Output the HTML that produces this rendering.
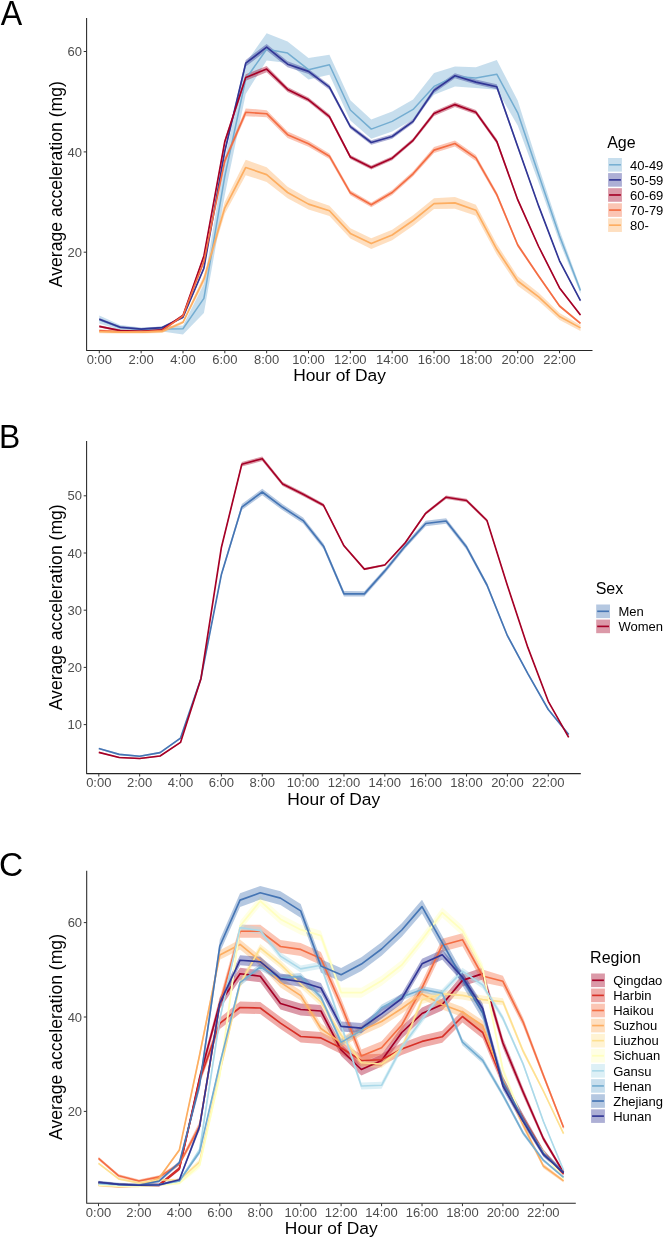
<!DOCTYPE html><html><head><meta charset="utf-8"><style>html,body{margin:0;padding:0;background:#fff;}svg{display:block;will-change:transform;}text{font-family:"Liberation Sans", sans-serif;}</style></head><body>
<svg width="664" height="1240" viewBox="0 0 664 1240">
<rect width="664" height="1240" fill="#fff"/>
<path d="M99.3,315.5 L120.22,325 L141.14,327.5 L162.06,326.5 L182.98,325.5 L203.9,284 L224.82,158 L245.74,63 L266.66,33.3 L287.58,41.5 L308.5,58.1 L329.42,54.8 L350.34,100.2 L371.26,119.4 L392.18,111.5 L413.1,99.6 L434.02,73.1 L454.94,66.5 L475.86,67.2 L496.78,60 L517.7,100.5 L538.62,166.5 L559.54,230 L580.46,287.6 L580.46,293.6 L559.54,242 L538.62,182.5 L517.7,125.5 L496.78,89.7 L475.86,88 L454.94,86.4 L434.02,94.7 L413.1,119.5 L392.18,131.5 L371.26,138.8 L350.34,120.5 L329.42,74.7 L308.5,79.6 L287.58,63.1 L266.66,60.5 L245.74,94 L224.82,195 L203.9,313 L182.98,334.4 L162.06,331.5 L141.14,331 L120.22,330 L99.3,323.5 Z" fill="#74add1" fill-opacity="0.4" stroke="none"/>
<path d="M99.3,318.1 L120.22,326.1 L141.14,327.9 L162.06,326.4 L182.98,316.1 L203.9,266.4 L224.82,148.4 L245.74,59.9 L266.66,43.9 L287.58,61.2 L308.5,68.9 L329.42,84.7 L350.34,124.4 L371.26,140.3 L392.18,134.3 L413.1,119.1 L434.02,87.9 L454.94,73.3 L475.86,79.6 L496.78,84.3 L517.7,144.8 L538.62,204.6 L559.54,259.7 L580.46,299.7 L580.46,301.7 L559.54,261.9 L538.62,207.2 L517.7,148.4 L496.78,89.3 L475.86,84.6 L454.94,78.3 L434.02,92.9 L413.1,123.5 L392.18,138.7 L371.26,144.7 L350.34,128.8 L329.42,89.7 L308.5,73.9 L287.58,67.2 L266.66,50.5 L245.74,66.5 L224.82,153.6 L203.9,270 L182.98,318.5 L162.06,328.8 L141.14,330.3 L120.22,328.5 L99.3,320.5 Z" fill="#313695" fill-opacity="0.4" stroke="none"/>
<path d="M99.3,325.2 L120.22,329.4 L141.14,330.2 L162.06,328.6 L182.98,314.3 L203.9,254.1 L224.82,139 L245.74,74.3 L266.66,65.9 L287.58,86.9 L308.5,97.5 L329.42,114.3 L350.34,155 L371.26,165.6 L392.18,156.2 L413.1,138.3 L434.02,111.3 L454.94,102.3 L475.86,109.9 L496.78,139.1 L517.7,197.9 L538.62,245.2 L559.54,286.8 L580.46,314 L580.46,316 L559.54,289 L538.62,247.8 L517.7,201.5 L496.78,143.7 L475.86,114.5 L454.94,106.9 L434.02,115.9 L413.1,142.3 L392.18,160.2 L371.26,169.6 L350.34,159 L329.42,118.9 L308.5,102.1 L287.58,91.9 L266.66,72.3 L245.74,80.7 L224.82,144 L203.9,257.7 L182.98,316.7 L162.06,331 L141.14,332.6 L120.22,331.8 L99.3,327.6 Z" fill="#a50026" fill-opacity="0.4" stroke="none"/>
<path d="M99.3,329.4 L120.22,330.6 L141.14,330.6 L162.06,329.4 L182.98,314.6 L203.9,259.4 L224.82,157.7 L245.74,108.4 L266.66,110.2 L287.58,131.5 L308.5,140.7 L329.42,153.4 L350.34,190.3 L371.26,202.4 L392.18,190.1 L413.1,171.3 L434.02,147.1 L454.94,140.5 L475.86,154.9 L496.78,192.1 L517.7,243 L538.62,274.4 L559.54,304.7 L580.46,322.2 L580.46,324.4 L559.54,307.3 L538.62,277.6 L517.7,247 L496.78,197.1 L475.86,160.9 L454.94,146.5 L434.02,153.1 L413.1,176.3 L392.18,194.9 L371.26,207.2 L350.34,195.3 L329.42,159 L308.5,146.7 L287.58,137.9 L266.66,117.2 L245.74,116.2 L224.82,163.7 L203.9,263.4 L182.98,317 L162.06,331.8 L141.14,333 L120.22,333 L99.3,331.8 Z" fill="#f46d43" fill-opacity="0.4" stroke="none"/>
<path d="M99.3,330.3 L120.22,330.6 L141.14,330.6 L162.06,329.9 L182.98,320.8 L203.9,275.2 L224.82,201.8 L245.74,159.8 L266.66,167.3 L287.58,186.7 L308.5,198.6 L329.42,205.7 L350.34,228.2 L371.26,238.3 L392.18,229.7 L413.1,215.2 L434.02,198.2 L454.94,197.1 L475.86,204.7 L496.78,244.1 L517.7,276.2 L538.62,292.7 L559.54,312.9 L580.46,324.9 L580.46,330.9 L559.54,320.1 L538.62,301.1 L517.7,285.8 L496.78,254.5 L475.86,215.7 L454.94,208.7 L434.02,209 L413.1,225.8 L392.18,240.3 L371.26,248.9 L350.34,238.6 L329.42,215.9 L308.5,209.6 L287.58,198.3 L266.66,181.9 L245.74,175.2 L224.82,213.8 L203.9,283.2 L182.98,323.8 L162.06,332.9 L141.14,333.6 L120.22,333.6 L99.3,333.3 Z" fill="#fdae61" fill-opacity="0.4" stroke="none"/>
<polyline points="99.3,319.6 120.22,327.5 141.14,329.3 162.06,329.1 182.98,328.8 203.9,298.4 224.82,176 245.74,79 266.66,49.2 287.58,53.1 308.5,69.7 329.42,64.7 350.34,110 371.26,129.1 392.18,121.4 413.1,109.4 434.02,86.4 454.94,76.4 475.86,78.1 496.78,74.2 517.7,112.8 538.62,174.5 559.54,235.9 580.46,290.6" fill="none" stroke="#74add1" stroke-width="1.5" stroke-linejoin="round" stroke-linecap="butt"/>
<polyline points="99.3,319.3 120.22,327.3 141.14,329.1 162.06,327.6 182.98,317.3 203.9,268.2 224.82,151 245.74,63.2 266.66,47.2 287.58,64.2 308.5,71.4 329.42,87.2 350.34,126.6 371.26,142.5 392.18,136.5 413.1,121.3 434.02,90.4 454.94,75.8 475.86,82.1 496.78,86.8 517.7,146.6 538.62,205.9 559.54,260.8 580.46,300.7" fill="none" stroke="#313695" stroke-width="1.65" stroke-linejoin="round" stroke-linecap="butt"/>
<polyline points="99.3,326.4 120.22,330.6 141.14,331.4 162.06,329.8 182.98,315.5 203.9,255.9 224.82,141.5 245.74,77.5 266.66,69.1 287.58,89.4 308.5,99.8 329.42,116.6 350.34,157 371.26,167.6 392.18,158.2 413.1,140.3 434.02,113.6 454.94,104.6 475.86,112.2 496.78,141.4 517.7,199.7 538.62,246.5 559.54,287.9 580.46,315" fill="none" stroke="#a50026" stroke-width="1.65" stroke-linejoin="round" stroke-linecap="butt"/>
<polyline points="99.3,330.6 120.22,331.8 141.14,331.8 162.06,330.6 182.98,315.8 203.9,261.4 224.82,160.7 245.74,112.3 266.66,113.7 287.58,134.7 308.5,143.7 329.42,156.2 350.34,192.8 371.26,204.8 392.18,192.5 413.1,173.8 434.02,150.1 454.94,143.5 475.86,157.9 496.78,194.6 517.7,245 538.62,276 559.54,306 580.46,323.3" fill="none" stroke="#f46d43" stroke-width="1.65" stroke-linejoin="round" stroke-linecap="butt"/>
<polyline points="99.3,331.8 120.22,332.1 141.14,332.1 162.06,331.4 182.98,322.3 203.9,279.2 224.82,207.8 245.74,167.5 266.66,174.6 287.58,192.5 308.5,204.1 329.42,210.8 350.34,233.4 371.26,243.6 392.18,235 413.1,220.5 434.02,203.6 454.94,202.9 475.86,210.2 496.78,249.3 517.7,281 538.62,296.9 559.54,316.5 580.46,327.9" fill="none" stroke="#fdae61" stroke-width="1.65" stroke-linejoin="round" stroke-linecap="butt"/>
<path d="M86.6,18 V350.4 H592.5" fill="none" stroke="#262626" stroke-width="1.05" stroke-linecap="butt" stroke-linejoin="round"/>
<line x1="83.7" y1="252.2" x2="86.6" y2="252.2" stroke="#333" stroke-width="1.0"/>
<text x="82" y="256.8" text-anchor="end" font-size="13" fill="#4d4d4d">20</text>
<line x1="83.7" y1="151.9" x2="86.6" y2="151.9" stroke="#333" stroke-width="1.0"/>
<text x="82" y="156.5" text-anchor="end" font-size="13" fill="#4d4d4d">40</text>
<line x1="83.7" y1="51.5" x2="86.6" y2="51.5" stroke="#333" stroke-width="1.0"/>
<text x="82" y="56.1" text-anchor="end" font-size="13" fill="#4d4d4d">60</text>
<line x1="99.3" y1="350.4" x2="99.3" y2="353.3" stroke="#333" stroke-width="1.0"/>
<text x="99.3" y="363.8" text-anchor="middle" font-size="13" fill="#4d4d4d">0:00</text>
<line x1="141.14" y1="350.4" x2="141.14" y2="353.3" stroke="#333" stroke-width="1.0"/>
<text x="141.14" y="363.8" text-anchor="middle" font-size="13" fill="#4d4d4d">2:00</text>
<line x1="182.98" y1="350.4" x2="182.98" y2="353.3" stroke="#333" stroke-width="1.0"/>
<text x="182.98" y="363.8" text-anchor="middle" font-size="13" fill="#4d4d4d">4:00</text>
<line x1="224.82" y1="350.4" x2="224.82" y2="353.3" stroke="#333" stroke-width="1.0"/>
<text x="224.82" y="363.8" text-anchor="middle" font-size="13" fill="#4d4d4d">6:00</text>
<line x1="266.66" y1="350.4" x2="266.66" y2="353.3" stroke="#333" stroke-width="1.0"/>
<text x="266.66" y="363.8" text-anchor="middle" font-size="13" fill="#4d4d4d">8:00</text>
<line x1="308.5" y1="350.4" x2="308.5" y2="353.3" stroke="#333" stroke-width="1.0"/>
<text x="308.5" y="363.8" text-anchor="middle" font-size="13" fill="#4d4d4d">10:00</text>
<line x1="350.34" y1="350.4" x2="350.34" y2="353.3" stroke="#333" stroke-width="1.0"/>
<text x="350.34" y="363.8" text-anchor="middle" font-size="13" fill="#4d4d4d">12:00</text>
<line x1="392.18" y1="350.4" x2="392.18" y2="353.3" stroke="#333" stroke-width="1.0"/>
<text x="392.18" y="363.8" text-anchor="middle" font-size="13" fill="#4d4d4d">14:00</text>
<line x1="434.02" y1="350.4" x2="434.02" y2="353.3" stroke="#333" stroke-width="1.0"/>
<text x="434.02" y="363.8" text-anchor="middle" font-size="13" fill="#4d4d4d">16:00</text>
<line x1="475.86" y1="350.4" x2="475.86" y2="353.3" stroke="#333" stroke-width="1.0"/>
<text x="475.86" y="363.8" text-anchor="middle" font-size="13" fill="#4d4d4d">18:00</text>
<line x1="517.7" y1="350.4" x2="517.7" y2="353.3" stroke="#333" stroke-width="1.0"/>
<text x="517.7" y="363.8" text-anchor="middle" font-size="13" fill="#4d4d4d">20:00</text>
<line x1="559.54" y1="350.4" x2="559.54" y2="353.3" stroke="#333" stroke-width="1.0"/>
<text x="559.54" y="363.8" text-anchor="middle" font-size="13" fill="#4d4d4d">22:00</text>
<text x="339.55" y="381.4" text-anchor="middle" font-size="17.4" fill="#000">Hour of Day</text>
<text transform="translate(61.8,184.2) rotate(-90)" text-anchor="middle" font-size="17.6" fill="#000">Average acceleration (mg)</text>
<text transform="translate(0.7,24.8) scale(0.96,1.045)" font-size="33.5" fill="#000">A</text>
<text x="607.2" y="147.9" font-size="16" fill="#000">Age</text>
<rect x="608.1" y="158" width="13.8" height="13.6" fill="#74add1" fill-opacity="0.4"/>
<line x1="609.1" y1="164.8" x2="620.9" y2="164.8" stroke="#74add1" stroke-width="1.5"/>
<text x="630.1" y="169.5" font-size="13" fill="#000">40-49</text>
<rect x="608.1" y="173.09" width="13.8" height="13.6" fill="#313695" fill-opacity="0.4"/>
<line x1="609.1" y1="179.89" x2="620.9" y2="179.89" stroke="#313695" stroke-width="1.65"/>
<text x="630.1" y="184.59" font-size="13" fill="#000">50-59</text>
<rect x="608.1" y="188.18" width="13.8" height="13.6" fill="#a50026" fill-opacity="0.4"/>
<line x1="609.1" y1="194.98" x2="620.9" y2="194.98" stroke="#a50026" stroke-width="1.65"/>
<text x="630.1" y="199.68" font-size="13" fill="#000">60-69</text>
<rect x="608.1" y="203.27" width="13.8" height="13.6" fill="#f46d43" fill-opacity="0.4"/>
<line x1="609.1" y1="210.07" x2="620.9" y2="210.07" stroke="#f46d43" stroke-width="1.65"/>
<text x="630.1" y="214.77" font-size="13" fill="#000">70-79</text>
<rect x="608.1" y="218.36" width="13.8" height="13.6" fill="#fdae61" fill-opacity="0.4"/>
<line x1="609.1" y1="225.16" x2="620.9" y2="225.16" stroke="#fdae61" stroke-width="1.65"/>
<text x="630.1" y="229.86" font-size="13" fill="#000">80-</text>
<path d="M98.8,747.7 L119.23,753.6 L139.66,755.4 L160.09,751.8 L180.52,737.3 L200.95,677.2 L221.38,572.3 L241.81,504.1 L262.24,488.7 L282.67,504.3 L303.1,517.6 L323.53,543.5 L343.96,591.1 L364.39,591.2 L384.82,568.4 L405.25,543.6 L425.68,520.7 L446.11,518.2 L466.54,544.5 L486.97,582.8 L507.4,634 L527.83,672.3 L548.26,708.5 L568.69,733.7 L568.69,735.3 L548.26,710.5 L527.83,674.9 L507.4,637.4 L486.97,587.2 L466.54,549.7 L446.11,523.8 L425.68,526.3 L405.25,548.6 L384.82,573.4 L364.39,596.6 L343.96,596.5 L323.53,548.9 L303.1,523.6 L282.67,510.3 L262.24,495.3 L241.81,510.1 L221.38,576.7 L200.95,679.6 L180.52,738.9 L160.09,753.4 L139.66,757 L119.23,755.2 L98.8,749.3 Z" fill="#4575b4" fill-opacity="0.4" stroke="none"/>
<path d="M98.8,751.7 L119.23,756.8 L139.66,757.8 L160.09,755.3 L180.52,741.7 L200.95,677.7 L221.38,546 L241.81,462.1 L262.24,456.4 L282.67,482 L303.1,492.3 L323.53,503.6 L343.96,544.6 L364.39,568 L384.82,563.9 L405.25,541.5 L425.68,511.8 L446.11,495.4 L466.54,498.7 L486.97,518.9 L507.4,584.3 L527.83,646.4 L548.26,700.5 L568.69,736.6 L568.69,738 L548.26,702.1 L527.83,648.4 L507.4,586.7 L486.97,522.1 L466.54,502.3 L446.11,499 L425.68,514.8 L405.25,543.9 L384.82,566.1 L364.39,570.2 L343.96,547 L323.53,507 L303.1,496.3 L282.67,486 L262.24,461 L241.81,466.5 L221.38,549 L200.95,679.7 L180.52,743.1 L160.09,756.7 L139.66,759.2 L119.23,758.2 L98.8,753.1 Z" fill="#a50026" fill-opacity="0.4" stroke="none"/>
<polyline points="98.8,748.5 119.23,754.4 139.66,756.2 160.09,752.6 180.52,738.1 200.95,678.4 221.38,574.5 241.81,507.1 262.24,492 282.67,507.3 303.1,520.6 323.53,546.2 343.96,593.8 364.39,593.9 384.82,570.9 405.25,546.1 425.68,523.5 446.11,521 466.54,547.1 486.97,585 507.4,635.7 527.83,673.6 548.26,709.5 568.69,734.5" fill="none" stroke="#4575b4" stroke-width="1.65" stroke-linejoin="round" stroke-linecap="butt"/>
<polyline points="98.8,752.4 119.23,757.5 139.66,758.5 160.09,756 180.52,742.4 200.95,678.7 221.38,547.5 241.81,464.3 262.24,458.7 282.67,484 303.1,494.3 323.53,505.3 343.96,545.8 364.39,569.1 384.82,565 405.25,542.7 425.68,513.3 446.11,497.2 466.54,500.5 486.97,520.5 507.4,585.5 527.83,647.4 548.26,701.3 568.69,737.3" fill="none" stroke="#a50026" stroke-width="1.65" stroke-linejoin="round" stroke-linecap="butt"/>
<path d="M86.6,441 V773.6 H580.8" fill="none" stroke="#262626" stroke-width="1.05" stroke-linecap="butt" stroke-linejoin="round"/>
<line x1="83.7" y1="724.6" x2="86.6" y2="724.6" stroke="#333" stroke-width="1.0"/>
<text x="82" y="729.2" text-anchor="end" font-size="13" fill="#4d4d4d">10</text>
<line x1="83.7" y1="667.4" x2="86.6" y2="667.4" stroke="#333" stroke-width="1.0"/>
<text x="82" y="672" text-anchor="end" font-size="13" fill="#4d4d4d">20</text>
<line x1="83.7" y1="610.2" x2="86.6" y2="610.2" stroke="#333" stroke-width="1.0"/>
<text x="82" y="614.8" text-anchor="end" font-size="13" fill="#4d4d4d">30</text>
<line x1="83.7" y1="553" x2="86.6" y2="553" stroke="#333" stroke-width="1.0"/>
<text x="82" y="557.6" text-anchor="end" font-size="13" fill="#4d4d4d">40</text>
<line x1="83.7" y1="495.8" x2="86.6" y2="495.8" stroke="#333" stroke-width="1.0"/>
<text x="82" y="500.4" text-anchor="end" font-size="13" fill="#4d4d4d">50</text>
<line x1="98.8" y1="773.6" x2="98.8" y2="776.5" stroke="#333" stroke-width="1.0"/>
<text x="98.8" y="787" text-anchor="middle" font-size="13" fill="#4d4d4d">0:00</text>
<line x1="139.66" y1="773.6" x2="139.66" y2="776.5" stroke="#333" stroke-width="1.0"/>
<text x="139.66" y="787" text-anchor="middle" font-size="13" fill="#4d4d4d">2:00</text>
<line x1="180.52" y1="773.6" x2="180.52" y2="776.5" stroke="#333" stroke-width="1.0"/>
<text x="180.52" y="787" text-anchor="middle" font-size="13" fill="#4d4d4d">4:00</text>
<line x1="221.38" y1="773.6" x2="221.38" y2="776.5" stroke="#333" stroke-width="1.0"/>
<text x="221.38" y="787" text-anchor="middle" font-size="13" fill="#4d4d4d">6:00</text>
<line x1="262.24" y1="773.6" x2="262.24" y2="776.5" stroke="#333" stroke-width="1.0"/>
<text x="262.24" y="787" text-anchor="middle" font-size="13" fill="#4d4d4d">8:00</text>
<line x1="303.1" y1="773.6" x2="303.1" y2="776.5" stroke="#333" stroke-width="1.0"/>
<text x="303.1" y="787" text-anchor="middle" font-size="13" fill="#4d4d4d">10:00</text>
<line x1="343.96" y1="773.6" x2="343.96" y2="776.5" stroke="#333" stroke-width="1.0"/>
<text x="343.96" y="787" text-anchor="middle" font-size="13" fill="#4d4d4d">12:00</text>
<line x1="384.82" y1="773.6" x2="384.82" y2="776.5" stroke="#333" stroke-width="1.0"/>
<text x="384.82" y="787" text-anchor="middle" font-size="13" fill="#4d4d4d">14:00</text>
<line x1="425.68" y1="773.6" x2="425.68" y2="776.5" stroke="#333" stroke-width="1.0"/>
<text x="425.68" y="787" text-anchor="middle" font-size="13" fill="#4d4d4d">16:00</text>
<line x1="466.54" y1="773.6" x2="466.54" y2="776.5" stroke="#333" stroke-width="1.0"/>
<text x="466.54" y="787" text-anchor="middle" font-size="13" fill="#4d4d4d">18:00</text>
<line x1="507.4" y1="773.6" x2="507.4" y2="776.5" stroke="#333" stroke-width="1.0"/>
<text x="507.4" y="787" text-anchor="middle" font-size="13" fill="#4d4d4d">20:00</text>
<line x1="548.26" y1="773.6" x2="548.26" y2="776.5" stroke="#333" stroke-width="1.0"/>
<text x="548.26" y="787" text-anchor="middle" font-size="13" fill="#4d4d4d">22:00</text>
<text x="333.7" y="804.6" text-anchor="middle" font-size="17.4" fill="#000">Hour of Day</text>
<text transform="translate(61.8,607.3) rotate(-90)" text-anchor="middle" font-size="17.6" fill="#000">Average acceleration (mg)</text>
<text transform="translate(-1,448) scale(0.95,1.0)" font-size="33.5" fill="#000">B</text>
<text x="595.7" y="594.3" font-size="16" fill="#000">Sex</text>
<rect x="596.2" y="604.5" width="13.8" height="13.6" fill="#4575b4" fill-opacity="0.4"/>
<line x1="597.2" y1="611.3" x2="609" y2="611.3" stroke="#4575b4" stroke-width="1.65"/>
<text x="618.5" y="616" font-size="13" fill="#000">Men</text>
<rect x="596.2" y="619.59" width="13.8" height="13.6" fill="#a50026" fill-opacity="0.4"/>
<line x1="597.2" y1="626.39" x2="609" y2="626.39" stroke="#a50026" stroke-width="1.65"/>
<text x="618.5" y="631.09" font-size="13" fill="#000">Women</text>
<path d="M98.5,1181.5 L118.72,1183.5 L138.94,1184 L159.16,1183.5 L179.38,1166.8 L199.6,1073.8 L219.82,997.3 L240.04,967.7 L260.26,970.2 L280.48,997.5 L300.7,1003.5 L320.92,1005 L341.14,1044 L361.36,1063.5 L381.58,1054.5 L401.8,1026.5 L422.02,1007.5 L442.24,998.5 L462.46,974.4 L482.68,967.6 L502.9,1037.9 L523.12,1088.1 L543.34,1135.8 L563.56,1170.7 L563.56,1174.3 L543.34,1141.2 L523.12,1095.9 L502.9,1048.1 L482.68,979.6 L462.46,986.4 L442.24,1010.5 L422.02,1019.5 L401.8,1038.5 L381.58,1066.5 L361.36,1075.5 L341.14,1056 L320.92,1017 L300.7,1015.5 L280.48,1009.5 L260.26,982.2 L240.04,979.7 L219.82,1008.7 L199.6,1082.2 L179.38,1170.4 L159.16,1186.5 L138.94,1187 L118.72,1186.5 L98.5,1184.5 Z" fill="#a50026" fill-opacity="0.4" stroke="none"/>
<path d="M98.5,1181.5 L118.72,1183.5 L138.94,1184 L159.16,1183.5 L179.38,1166.8 L199.6,1075.8 L219.82,1017.7 L240.04,1001.5 L260.26,1002 L280.48,1017.1 L300.7,1030.5 L320.92,1031.9 L341.14,1042 L361.36,1054.5 L381.58,1053.7 L401.8,1043 L422.02,1035.4 L442.24,1030.8 L462.46,1010.5 L482.68,1026.5 L502.9,1076.9 L523.12,1114.1 L543.34,1149.3 L563.56,1172.2 L563.56,1175.8 L543.34,1154.7 L523.12,1121.9 L502.9,1087.1 L482.68,1038.5 L462.46,1022.5 L442.24,1042.8 L422.02,1047.4 L401.8,1055 L381.58,1065.7 L361.36,1066.5 L341.14,1054 L320.92,1043.9 L300.7,1042.5 L280.48,1029.1 L260.26,1014 L240.04,1013.5 L219.82,1029.1 L199.6,1084.2 L179.38,1170.4 L159.16,1186.5 L138.94,1187 L118.72,1186.5 L98.5,1184.5 Z" fill="#d73027" fill-opacity="0.4" stroke="none"/>
<path d="M98.5,1156.78 L118.72,1174.17 L138.94,1179.38 L159.16,1175.28 L179.38,1162.05 L199.6,1121.45 L219.82,997.83 L240.04,924.7 L260.26,924.7 L280.48,940 L300.7,942.9 L320.92,952 L341.14,998.5 L361.36,1049.5 L381.58,1041.2 L401.8,1018.5 L422.02,981.4 L442.24,938.7 L462.46,933.2 L482.68,969.5 L502.9,975.77 L523.12,1017.77 L543.34,1072.28 L563.56,1125.55 L563.56,1129.45 L543.34,1078.12 L523.12,1026.22 L502.9,986.82 L482.68,982.5 L462.46,946.2 L442.24,951.7 L422.02,994.4 L401.8,1031.5 L381.58,1054.2 L361.36,1062.5 L341.14,1011.5 L320.92,965 L300.7,955.9 L280.48,953 L260.26,937.7 L240.04,937.7 L219.82,1010.17 L199.6,1130.55 L179.38,1165.95 L159.16,1178.53 L138.94,1182.62 L118.72,1177.42 L98.5,1160.03 Z" fill="#f46d43" fill-opacity="0.4" stroke="none"/>
<path d="M98.5,1183.95 L118.72,1185.45 L138.94,1184.75 L159.16,1176.75 L179.38,1148.5 L199.6,1051.5 L219.82,950.25 L240.04,939.4 L260.26,956 L280.48,977.4 L300.7,990.6 L320.92,1023.5 L341.14,1037.8 L361.36,1025.4 L381.58,1016.5 L401.8,1003.5 L422.02,988.9 L442.24,999.5 L462.46,1007 L482.68,1020.5 L502.9,1075.75 L523.12,1121.75 L543.34,1163.75 L563.56,1179.4 L563.56,1182.4 L543.34,1168.25 L523.12,1128.25 L502.9,1084.25 L482.68,1030.5 L462.46,1017 L442.24,1009.5 L422.02,998.9 L401.8,1013.5 L381.58,1026.5 L361.36,1035.4 L341.14,1047.8 L320.92,1033.5 L300.7,1000.6 L280.48,987.4 L260.26,966 L240.04,949.4 L219.82,959.75 L199.6,1058.5 L179.38,1151.5 L159.16,1179.25 L138.94,1187.25 L118.72,1187.95 L98.5,1186.45 Z" fill="#fdae61" fill-opacity="0.4" stroke="none"/>
<path d="M98.5,1162.3 L118.72,1177.9 L138.94,1181.9 L159.16,1179 L179.38,1178.8 L199.6,1159.2 L219.82,1068.2 L240.04,980 L260.26,944 L280.48,960.3 L300.7,980 L320.92,998 L341.14,1031 L361.36,1058.7 L381.58,1060 L401.8,1044.4 L422.02,996 L442.24,989.9 L462.46,991.4 L482.68,995.6 L502.9,998.3 L523.12,1048.6 L543.34,1089.2 L563.56,1132.4 L563.56,1134.8 L543.34,1092.8 L523.12,1053.8 L502.9,1005.1 L482.68,1003.6 L462.46,999.4 L442.24,997.9 L422.02,1004 L401.8,1052.4 L381.58,1068 L361.36,1066.7 L341.14,1039 L320.92,1006 L300.7,988 L280.48,968.3 L260.26,952 L240.04,988 L219.82,1075.8 L199.6,1164.8 L179.38,1181.2 L159.16,1181 L138.94,1183.9 L118.72,1179.9 L98.5,1164.3 Z" fill="#fee090" fill-opacity="0.4" stroke="none"/>
<path d="M98.5,1183.75 L118.72,1184.75 L138.94,1184.75 L159.16,1183.75 L179.38,1181.5 L199.6,1161.5 L219.82,1070.25 L240.04,921 L260.26,896 L280.48,914.2 L300.7,924.7 L320.92,930.7 L341.14,987.5 L361.36,987.7 L381.58,975.7 L401.8,960 L422.02,934.7 L442.24,907.6 L462.46,925.7 L482.68,963.8 L502.9,1065.75 L523.12,1118.75 L543.34,1149.75 L563.56,1177.3 L563.56,1180.3 L543.34,1154.25 L523.12,1125.25 L502.9,1074.25 L482.68,973.8 L462.46,935.7 L442.24,917.6 L422.02,944.7 L401.8,970 L381.58,985.7 L361.36,997.7 L341.14,997.5 L320.92,940.7 L300.7,934.7 L280.48,924.2 L260.26,906 L240.04,931 L219.82,1079.75 L199.6,1168.5 L179.38,1184.5 L159.16,1186.25 L138.94,1187.25 L118.72,1187.25 L98.5,1186.25 Z" fill="#ffffbf" fill-opacity="0.4" stroke="none"/>
<path d="M98.5,1183.12 L118.72,1184.12 L138.94,1184.62 L159.16,1184.12 L179.38,1179.95 L199.6,1147.55 L219.82,1015.67 L240.04,924.1 L260.26,927.1 L280.48,952.6 L300.7,965.4 L320.92,961.8 L341.14,1021.5 L361.36,1082.5 L381.58,1081.8 L401.8,1043.5 L422.02,1016 L442.24,988.9 L462.46,967.8 L482.68,981.5 L502.9,1015.32 L523.12,1061.72 L543.34,1119.72 L563.56,1169.15 L563.56,1171.25 L543.34,1122.88 L523.12,1066.28 L502.9,1021.27 L482.68,988.5 L462.46,974.8 L442.24,995.9 L422.02,1023 L401.8,1050.5 L381.58,1088.8 L361.36,1089.5 L341.14,1028.5 L320.92,968.8 L300.7,972.4 L280.48,959.6 L260.26,934.1 L240.04,931.1 L219.82,1022.33 L199.6,1152.45 L179.38,1182.05 L159.16,1185.88 L138.94,1186.38 L118.72,1185.88 L98.5,1184.88 Z" fill="#abd9e9" fill-opacity="0.4" stroke="none"/>
<path d="M98.5,1182.17 L118.72,1183.67 L138.94,1184.17 L159.16,1183.67 L179.38,1180.01 L199.6,1149.69 L219.82,1060.87 L240.04,979.3 L260.26,963.7 L280.48,974.7 L300.7,973.1 L320.92,993.9 L341.14,1039.1 L361.36,1027.1 L381.58,1004.5 L401.8,993.7 L422.02,986.1 L442.24,989.9 L462.46,1038.8 L482.68,1057 L502.9,1092.19 L523.12,1130.86 L543.34,1158.72 L563.56,1176.31 L563.56,1178.29 L543.34,1161.68 L523.12,1135.14 L502.9,1097.81 L482.68,1063.6 L462.46,1045.4 L442.24,996.5 L422.02,992.7 L401.8,1000.3 L381.58,1011.1 L361.36,1033.7 L341.14,1045.7 L320.92,1000.5 L300.7,979.7 L280.48,981.3 L260.26,970.3 L240.04,985.9 L219.82,1067.13 L199.6,1154.31 L179.38,1181.99 L159.16,1185.33 L138.94,1185.83 L118.72,1185.33 L98.5,1183.83 Z" fill="#74add1" fill-opacity="0.4" stroke="none"/>
<path d="M98.5,1180.8 L118.72,1182.7 L138.94,1183.5 L159.16,1179.3 L179.38,1160.66 L199.6,1080.24 L219.82,939.54 L240.04,893.3 L260.26,886 L280.48,891.3 L300.7,904.1 L320.92,959.2 L341.14,967.9 L361.36,957.3 L381.58,942.2 L401.8,923.2 L422.02,899.8 L442.24,935.9 L462.46,972.1 L482.68,1006.2 L502.9,1076.22 L523.12,1114.58 L543.34,1149.94 L563.56,1170.46 L563.56,1174.54 L543.34,1156.06 L523.12,1123.42 L502.9,1087.78 L482.68,1019.8 L462.46,985.7 L442.24,949.5 L422.02,913.4 L401.8,936.8 L381.58,955.8 L361.36,970.9 L341.14,981.5 L320.92,972.8 L300.7,917.7 L280.48,904.9 L260.26,899.6 L240.04,906.9 L219.82,952.46 L199.6,1089.76 L179.38,1164.74 L159.16,1182.7 L138.94,1186.9 L118.72,1186.1 L98.5,1184.2 Z" fill="#4575b4" fill-opacity="0.4" stroke="none"/>
<path d="M98.5,1180.95 L118.72,1183.15 L138.94,1183.95 L159.16,1183.65 L179.38,1178.2 L199.6,1123 L219.82,998.45 L240.04,955.2 L260.26,956.7 L280.48,973.6 L300.7,976.7 L320.92,983 L341.14,1021.4 L361.36,1023.1 L381.58,1008.8 L401.8,993.5 L422.02,958.8 L442.24,949.8 L462.46,972.3 L482.68,1003.5 L502.9,1081.55 L523.12,1118.25 L543.34,1152.15 L563.56,1171.5 L563.56,1174.5 L543.34,1156.65 L523.12,1124.75 L502.9,1090.05 L482.68,1013.5 L462.46,982.3 L442.24,959.8 L422.02,968.8 L401.8,1003.5 L381.58,1018.8 L361.36,1033.1 L341.14,1031.4 L320.92,993 L300.7,986.7 L280.48,983.6 L260.26,966.7 L240.04,965.2 L219.82,1007.95 L199.6,1130 L179.38,1181.2 L159.16,1186.15 L138.94,1186.45 L118.72,1185.65 L98.5,1183.45 Z" fill="#313695" fill-opacity="0.4" stroke="none"/>
<polyline points="98.5,1183 118.72,1185 138.94,1185.5 159.16,1185 179.38,1168.6 199.6,1078 219.82,1003 240.04,973.7 260.26,976.2 280.48,1003.5 300.7,1009.5 320.92,1011 341.14,1050 361.36,1069.5 381.58,1060.5 401.8,1032.5 422.02,1013.5 442.24,1004.5 462.46,980.4 482.68,973.6 502.9,1043 523.12,1092 543.34,1138.5 563.56,1172.5" fill="none" stroke="#a50026" stroke-width="1.65" stroke-linejoin="round" stroke-linecap="butt"/>
<polyline points="98.5,1183 118.72,1185 138.94,1185.5 159.16,1185 179.38,1168.6 199.6,1080 219.82,1023.4 240.04,1007.5 260.26,1008 280.48,1023.1 300.7,1036.5 320.92,1037.9 341.14,1048 361.36,1060.5 381.58,1059.7 401.8,1049 422.02,1041.4 442.24,1036.8 462.46,1016.5 482.68,1032.5 502.9,1082 523.12,1118 543.34,1152 563.56,1174" fill="none" stroke="#d73027" stroke-width="1.65" stroke-linejoin="round" stroke-linecap="butt"/>
<polyline points="98.5,1158.4 118.72,1175.8 138.94,1181 159.16,1176.9 179.38,1164 199.6,1126 219.82,1004 240.04,931.2 260.26,931.2 280.48,946.5 300.7,949.4 320.92,958.5 341.14,1005 361.36,1056 381.58,1047.7 401.8,1025 422.02,987.9 442.24,945.2 462.46,939.7 482.68,976 502.9,981.3 523.12,1022 543.34,1075.2 563.56,1127.5" fill="none" stroke="#f46d43" stroke-width="1.65" stroke-linejoin="round" stroke-linecap="butt"/>
<polyline points="98.5,1185.2 118.72,1186.7 138.94,1186 159.16,1178 179.38,1150 199.6,1055 219.82,955 240.04,944.4 260.26,961 280.48,982.4 300.7,995.6 320.92,1028.5 341.14,1042.8 361.36,1030.4 381.58,1021.5 401.8,1008.5 422.02,993.9 442.24,1004.5 462.46,1012 482.68,1025.5 502.9,1080 523.12,1125 543.34,1166 563.56,1180.9" fill="none" stroke="#fdae61" stroke-width="1.65" stroke-linejoin="round" stroke-linecap="butt"/>
<polyline points="98.5,1163.3 118.72,1178.9 138.94,1182.9 159.16,1180 179.38,1180 199.6,1162 219.82,1072 240.04,984 260.26,948 280.48,964.3 300.7,984 320.92,1002 341.14,1035 361.36,1062.7 381.58,1064 401.8,1048.4 422.02,1000 442.24,993.9 462.46,995.4 482.68,999.6 502.9,1001.7 523.12,1051.2 543.34,1091 563.56,1133.6" fill="none" stroke="#fee090" stroke-width="1.65" stroke-linejoin="round" stroke-linecap="butt"/>
<polyline points="98.5,1185 118.72,1186 138.94,1186 159.16,1185 179.38,1183 199.6,1165 219.82,1075 240.04,926 260.26,901 280.48,919.2 300.7,929.7 320.92,935.7 341.14,992.5 361.36,992.7 381.58,980.7 401.8,965 422.02,939.7 442.24,912.6 462.46,930.7 482.68,968.8 502.9,1070 523.12,1122 543.34,1152 563.56,1178.8" fill="none" stroke="#ffffbf" stroke-width="1.8" stroke-linejoin="round" stroke-linecap="butt"/>
<polyline points="98.5,1184 118.72,1185 138.94,1185.5 159.16,1185 179.38,1181 199.6,1150 219.82,1019 240.04,927.6 260.26,930.6 280.48,956.1 300.7,968.9 320.92,965.3 341.14,1025 361.36,1086 381.58,1085.3 401.8,1047 422.02,1019.5 442.24,992.4 462.46,971.3 482.68,985 502.9,1018.3 523.12,1064 543.34,1121.3 563.56,1170.2" fill="none" stroke="#abd9e9" stroke-width="1.65" stroke-linejoin="round" stroke-linecap="butt"/>
<polyline points="98.5,1183 118.72,1184.5 138.94,1185 159.16,1184.5 179.38,1181 199.6,1152 219.82,1064 240.04,982.6 260.26,967 280.48,978 300.7,976.4 320.92,997.2 341.14,1042.4 361.36,1030.4 381.58,1007.8 401.8,997 422.02,989.4 442.24,993.2 462.46,1042.1 482.68,1060.3 502.9,1095 523.12,1133 543.34,1160.2 563.56,1177.3" fill="none" stroke="#74add1" stroke-width="1.65" stroke-linejoin="round" stroke-linecap="butt"/>
<polyline points="98.5,1182.5 118.72,1184.4 138.94,1185.2 159.16,1181 179.38,1162.7 199.6,1085 219.82,946 240.04,900.1 260.26,892.8 280.48,898.1 300.7,910.9 320.92,966 341.14,974.7 361.36,964.1 381.58,949 401.8,930 422.02,906.6 442.24,942.7 462.46,978.9 482.68,1013 502.9,1082 523.12,1119 543.34,1153 563.56,1172.5" fill="none" stroke="#4575b4" stroke-width="1.65" stroke-linejoin="round" stroke-linecap="butt"/>
<polyline points="98.5,1182.2 118.72,1184.4 138.94,1185.2 159.16,1184.9 179.38,1179.7 199.6,1126.5 219.82,1003.2 240.04,960.2 260.26,961.7 280.48,978.6 300.7,981.7 320.92,988 341.14,1026.4 361.36,1028.1 381.58,1013.8 401.8,998.5 422.02,963.8 442.24,954.8 462.46,977.3 482.68,1008.5 502.9,1085.8 523.12,1121.5 543.34,1154.4 563.56,1173" fill="none" stroke="#313695" stroke-width="1.65" stroke-linejoin="round" stroke-linecap="butt"/>
<path d="M86.7,870.7 V1203.3 H575.8" fill="none" stroke="#262626" stroke-width="1.05" stroke-linecap="butt" stroke-linejoin="round"/>
<line x1="83.8" y1="1111.4" x2="86.7" y2="1111.4" stroke="#333" stroke-width="1.0"/>
<text x="82.1" y="1116" text-anchor="end" font-size="13" fill="#4d4d4d">20</text>
<line x1="83.8" y1="1017" x2="86.7" y2="1017" stroke="#333" stroke-width="1.0"/>
<text x="82.1" y="1021.6" text-anchor="end" font-size="13" fill="#4d4d4d">40</text>
<line x1="83.8" y1="922.6" x2="86.7" y2="922.6" stroke="#333" stroke-width="1.0"/>
<text x="82.1" y="927.2" text-anchor="end" font-size="13" fill="#4d4d4d">60</text>
<line x1="98.5" y1="1203.3" x2="98.5" y2="1206.2" stroke="#333" stroke-width="1.0"/>
<text x="98.5" y="1216.7" text-anchor="middle" font-size="13" fill="#4d4d4d">0:00</text>
<line x1="138.94" y1="1203.3" x2="138.94" y2="1206.2" stroke="#333" stroke-width="1.0"/>
<text x="138.94" y="1216.7" text-anchor="middle" font-size="13" fill="#4d4d4d">2:00</text>
<line x1="179.38" y1="1203.3" x2="179.38" y2="1206.2" stroke="#333" stroke-width="1.0"/>
<text x="179.38" y="1216.7" text-anchor="middle" font-size="13" fill="#4d4d4d">4:00</text>
<line x1="219.82" y1="1203.3" x2="219.82" y2="1206.2" stroke="#333" stroke-width="1.0"/>
<text x="219.82" y="1216.7" text-anchor="middle" font-size="13" fill="#4d4d4d">6:00</text>
<line x1="260.26" y1="1203.3" x2="260.26" y2="1206.2" stroke="#333" stroke-width="1.0"/>
<text x="260.26" y="1216.7" text-anchor="middle" font-size="13" fill="#4d4d4d">8:00</text>
<line x1="300.7" y1="1203.3" x2="300.7" y2="1206.2" stroke="#333" stroke-width="1.0"/>
<text x="300.7" y="1216.7" text-anchor="middle" font-size="13" fill="#4d4d4d">10:00</text>
<line x1="341.14" y1="1203.3" x2="341.14" y2="1206.2" stroke="#333" stroke-width="1.0"/>
<text x="341.14" y="1216.7" text-anchor="middle" font-size="13" fill="#4d4d4d">12:00</text>
<line x1="381.58" y1="1203.3" x2="381.58" y2="1206.2" stroke="#333" stroke-width="1.0"/>
<text x="381.58" y="1216.7" text-anchor="middle" font-size="13" fill="#4d4d4d">14:00</text>
<line x1="422.02" y1="1203.3" x2="422.02" y2="1206.2" stroke="#333" stroke-width="1.0"/>
<text x="422.02" y="1216.7" text-anchor="middle" font-size="13" fill="#4d4d4d">16:00</text>
<line x1="462.46" y1="1203.3" x2="462.46" y2="1206.2" stroke="#333" stroke-width="1.0"/>
<text x="462.46" y="1216.7" text-anchor="middle" font-size="13" fill="#4d4d4d">18:00</text>
<line x1="502.9" y1="1203.3" x2="502.9" y2="1206.2" stroke="#333" stroke-width="1.0"/>
<text x="502.9" y="1216.7" text-anchor="middle" font-size="13" fill="#4d4d4d">20:00</text>
<line x1="543.34" y1="1203.3" x2="543.34" y2="1206.2" stroke="#333" stroke-width="1.0"/>
<text x="543.34" y="1216.7" text-anchor="middle" font-size="13" fill="#4d4d4d">22:00</text>
<text x="331.25" y="1234.3" text-anchor="middle" font-size="17.4" fill="#000">Hour of Day</text>
<text transform="translate(61.8,1037) rotate(-90)" text-anchor="middle" font-size="17.6" fill="#000">Average acceleration (mg)</text>
<text transform="translate(-1,876.2) scale(1,1)" font-size="33.5" fill="#000">C</text>
<text x="590.1" y="963.1" font-size="16" fill="#000">Region</text>
<rect x="591.1" y="973.5" width="13.8" height="13.6" fill="#a50026" fill-opacity="0.4"/>
<line x1="592.1" y1="980.3" x2="603.9" y2="980.3" stroke="#a50026" stroke-width="1.65"/>
<text x="613.2" y="985" font-size="13" fill="#000">Qingdao</text>
<rect x="591.1" y="988.59" width="13.8" height="13.6" fill="#d73027" fill-opacity="0.4"/>
<line x1="592.1" y1="995.39" x2="603.9" y2="995.39" stroke="#d73027" stroke-width="1.65"/>
<text x="613.2" y="1000.09" font-size="13" fill="#000">Harbin</text>
<rect x="591.1" y="1003.68" width="13.8" height="13.6" fill="#f46d43" fill-opacity="0.4"/>
<line x1="592.1" y1="1010.48" x2="603.9" y2="1010.48" stroke="#f46d43" stroke-width="1.65"/>
<text x="613.2" y="1015.18" font-size="13" fill="#000">Haikou</text>
<rect x="591.1" y="1018.77" width="13.8" height="13.6" fill="#fdae61" fill-opacity="0.4"/>
<line x1="592.1" y1="1025.57" x2="603.9" y2="1025.57" stroke="#fdae61" stroke-width="1.65"/>
<text x="613.2" y="1030.27" font-size="13" fill="#000">Suzhou</text>
<rect x="591.1" y="1033.86" width="13.8" height="13.6" fill="#fee090" fill-opacity="0.4"/>
<line x1="592.1" y1="1040.66" x2="603.9" y2="1040.66" stroke="#fee090" stroke-width="1.65"/>
<text x="613.2" y="1045.36" font-size="13" fill="#000">Liuzhou</text>
<rect x="591.1" y="1048.95" width="13.8" height="13.6" fill="#ffffbf" fill-opacity="0.4"/>
<line x1="592.1" y1="1055.75" x2="603.9" y2="1055.75" stroke="#ffffbf" stroke-width="1.8"/>
<text x="613.2" y="1060.45" font-size="13" fill="#000">Sichuan</text>
<rect x="591.1" y="1064.04" width="13.8" height="13.6" fill="#abd9e9" fill-opacity="0.4"/>
<line x1="592.1" y1="1070.84" x2="603.9" y2="1070.84" stroke="#abd9e9" stroke-width="1.65"/>
<text x="613.2" y="1075.54" font-size="13" fill="#000">Gansu</text>
<rect x="591.1" y="1079.13" width="13.8" height="13.6" fill="#74add1" fill-opacity="0.4"/>
<line x1="592.1" y1="1085.93" x2="603.9" y2="1085.93" stroke="#74add1" stroke-width="1.65"/>
<text x="613.2" y="1090.63" font-size="13" fill="#000">Henan</text>
<rect x="591.1" y="1094.22" width="13.8" height="13.6" fill="#4575b4" fill-opacity="0.4"/>
<line x1="592.1" y1="1101.02" x2="603.9" y2="1101.02" stroke="#4575b4" stroke-width="1.65"/>
<text x="613.2" y="1105.72" font-size="13" fill="#000">Zhejiang</text>
<rect x="591.1" y="1109.31" width="13.8" height="13.6" fill="#313695" fill-opacity="0.4"/>
<line x1="592.1" y1="1116.11" x2="603.9" y2="1116.11" stroke="#313695" stroke-width="1.65"/>
<text x="613.2" y="1120.81" font-size="13" fill="#000">Hunan</text>
</svg></body></html>
